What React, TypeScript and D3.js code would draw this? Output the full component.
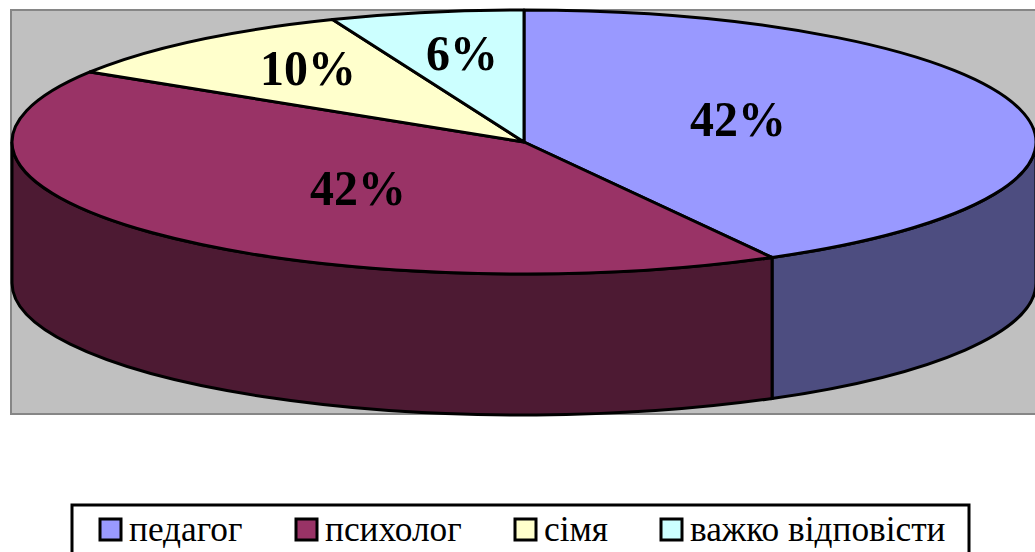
import * as d3 from "d3";

const categories = ["педагог", "психолог", "сімя", "важко відповісти"];
const shares = [41.95, 41.95, 10, 6.1];
const labels = ["42%", "42%", "10%", "6%"];
const topColors = ["#9999ff", "#993366", "#ffffcc", "#ccffff"];
const sideColors = ["#4d4d80", "#4d1a33"];
const labelPos = [[738, 136], [358, 205], [308, 85], [462, 70]];
const legendX = [99, 295, 514, 660];

const width = 1035;
const height = 552;
const cx = 524;
const cy = 142;
const rx = 512;
const ry = 132;
const depth = 141;

// unit circle -> squashed ellipse
const sx = d3.scaleLinear().domain([-1, 1]).range([cx - rx, cx + rx]);
const sy = d3.scaleLinear().domain([-1, 1]).range([cy - ry, cy + ry]);
const px = (a: number) => sx(Math.sin(a));
const py = (a: number) => sy(-Math.cos(a));

const arcs = d3.pie<number>().sort(null)(shares);

function topPath(a0: number, a1: number) {
  const large = a1 - a0 > Math.PI ? 1 : 0;
  return `M${cx},${cy}L${px(a0)},${py(a0)}A${rx},${ry} 0 ${large} 1 ${px(a1)},${py(a1)}Z`;
}

function sidePath(a0: number, a1: number) {
  // only the front half of the rim is visible
  const s = Math.max(a0, Math.PI / 2);
  const e = Math.min(a1, (3 * Math.PI) / 2);
  if (e <= s) return "";
  return `M${px(s)},${py(s)}A${rx},${ry} 0 0 1 ${px(e)},${py(e)}L${px(e)},${py(e) + depth}A${rx},${ry} 0 0 0 ${px(s)},${py(s) + depth}Z`;
}

export default function App() {
  return (
    <svg
      width={width}
      height={height}
      viewBox={`0 0 ${width} ${height}`}
      style={{ position: "absolute", left: 0, top: 0, display: "block" }}
    >
      <rect x={0} y={0} width={width} height={height} fill="#ffffff" />
      <rect x={11} y={10} width={1030} height={404} fill="#c0c0c0" stroke="#868686" strokeWidth={2} />
      {arcs.slice(0, 2).map((d, i) => (
        <path key={i} d={sidePath(d.startAngle, d.endAngle)} fill={sideColors[i]} stroke="#000" strokeWidth={3} />
      ))}
      {arcs.map((d, i) => (
        <path key={i} d={topPath(d.startAngle, d.endAngle)} fill={topColors[i]} stroke="#000" strokeWidth={3} strokeLinejoin="round" />
      ))}
      {labels.map((t, i) => (
        <text
          key={i}
          transform={`translate(${labelPos[i][0]},${labelPos[i][1]}) scale(0.94,1)`}
          textAnchor="middle"
          fontFamily="Liberation Serif"
          fontWeight="bold"
          fontSize={51}
          fill="#000"
        >
          {t}
        </text>
      ))}
      <rect x={72} y={505} width={897} height={60} fill="#fff" stroke="#000" strokeWidth={3} />
      {categories.map((c, i) => (
        <g key={c} transform={`translate(${legendX[i]},0)`}>
          <rect x={1} y={519} width={21} height={21} fill={topColors[i]} stroke="#000" strokeWidth={3} />
          <text x={30} y={541} fontFamily="Liberation Serif" fontSize={35.3} fill="#000">
            {c}
          </text>
        </g>
      ))}
    </svg>
  );
}
